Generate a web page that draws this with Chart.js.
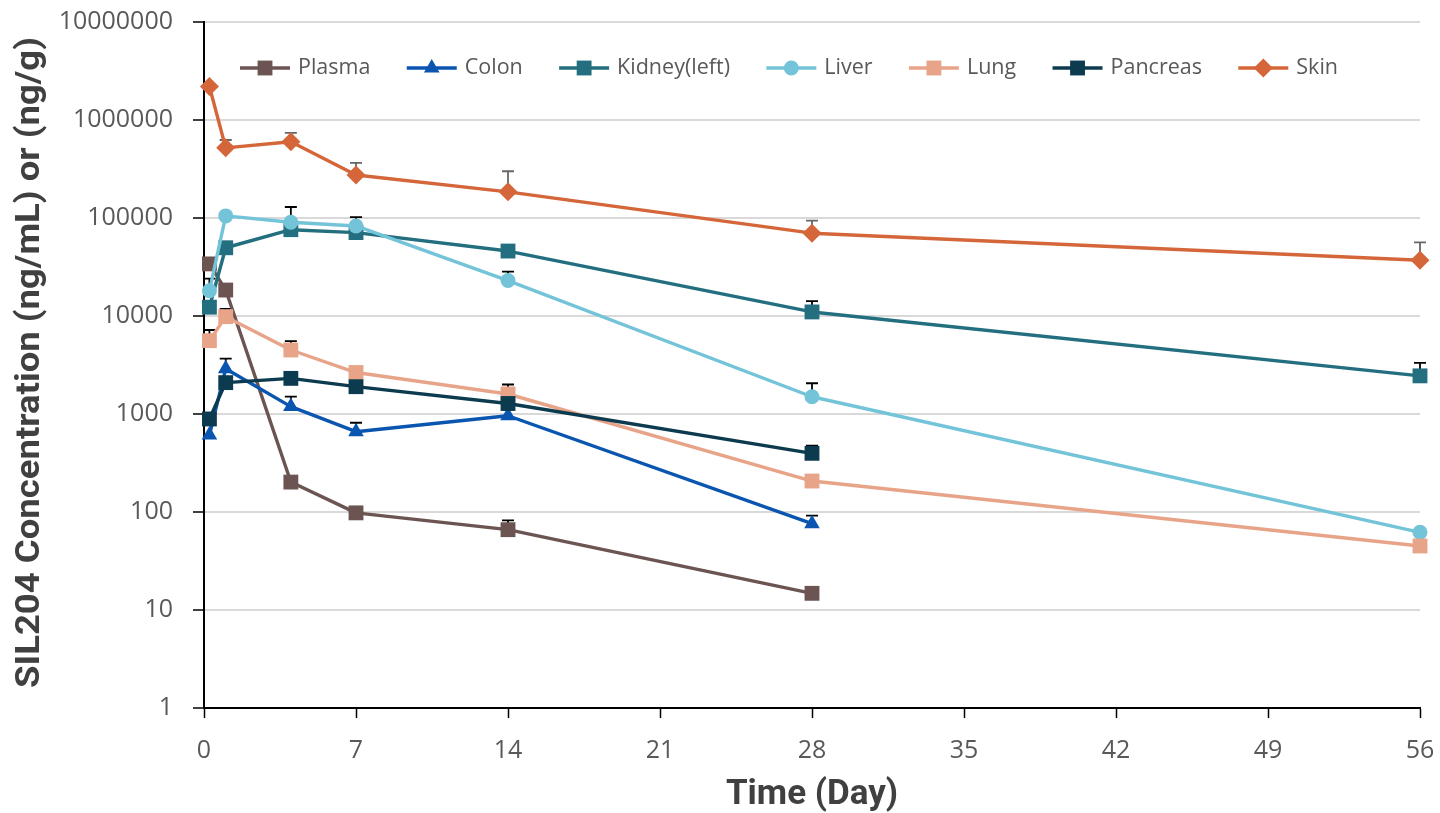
<!DOCTYPE html>
<html>
<head>
<meta charset="utf-8">
<script src="https://cdn.jsdelivr.net/npm/chart.js@4/dist/chart.umd.min.js"></script>
<style>
html,body{margin:0;padding:0;background:#fff;}
#wrap{width:1440px;height:813px;}
</style>
</head>
<body>
<div id="wrap"><canvas id="c" width="1440" height="813"></canvas></div>
<script>
// ---- data ----
const TIME = [0.25, 1, 4, 7, 14, 28, 56];
const X_TICKS = [0, 7, 14, 21, 28, 35, 42, 49, 56];
const Y_TICKS = [1, 10, 100, 1000, 10000, 100000, 1000000, 10000000];
const SERIES_NAMES = ['Plasma', 'Colon', 'Kidney(left)', 'Liver', 'Lung', 'Pancreas', 'Skin'];
const X_TITLE = 'Time (Day)';
const Y_TITLE = 'SIL204 Concentration (ng/mL) or (ng/g)';

const PLASMA      = [34000, 18400, 202, 98, 66, 14.8];
const PLASMA_SD   = [null, null, null, null, 16, null];
const COLON       = [610, 2900, 1190, 660, 960, 76];
const COLON_SD    = [null, 770, 316, 154, 150, 16];
const KIDNEY      = [12300, 49700, 76000, 71000, 46000, 11000, 2450];
const KIDNEY_SD   = [null, null, null, null, null, 3200, 880];
const LIVER       = [18100, 105000, 90500, 83000, 23000, 1500, 62];
const LIVER_SD    = [6000, null, 39000, 19000, 5300, 560, null];
const LUNG        = [5600, 9850, 4500, 2650, 1600, 207, 45];
const LUNG_SD     = [1600, 2000, 1050, null, 400, null, null];
const PANCREAS    = [890, 2090, 2310, 1900, 1280, 397];
const PANCREAS_SD = [null, null, null, null, 250, 78];
const SKIN        = [2200000, 520000, 600000, 275000, 185000, 70000, 37000];
const SKIN_SD     = [100000, 105000, 140000, 90000, 115000, 24000, 19500];

// ---- styles ----
const STYLES = [
  {color: '#6B5451', point: 'rect', r: 10.5, err: '#000000'},
  {color: '#0A55B0', point: 'triangle', r: 9, err: '#000000'},
  {color: '#236F80', point: 'rect', r: 10.5, err: '#000000'},
  {color: '#74C4D9', point: 'circle', r: 7.5, err: '#000000'},
  {color: '#E8A488', point: 'rect', r: 10.5, err: '#000000'},
  {color: '#0C3A4F', point: 'rect', r: 10.5, err: '#000000'},
  {color: '#D4663A', point: 'rectRot', r: 9.5, err: '#666666'}
];
const VALUES = [PLASMA, COLON, KIDNEY, LIVER, LUNG, PANCREAS, SKIN];
const SDS = [PLASMA_SD, COLON_SD, KIDNEY_SD, LIVER_SD, LUNG_SD, PANCREAS_SD, SKIN_SD];

const datasets = SERIES_NAMES.map((name, i) => ({
  label: name,
  data: VALUES[i].map((v, j) => ({x: TIME[j], y: v})),
  sd: SDS[i],
  borderColor: STYLES[i].color,
  backgroundColor: STYLES[i].color,
  pointStyle: STYLES[i].point,
  pointRadius: STYLES[i].r,
  pointHoverRadius: STYLES[i].r,
  pointBorderWidth: 0,
  borderWidth: 3.4,
  tension: 0,
  clip: false,
  order: SERIES_NAMES.length - i,
  errColor: STYLES[i].err
}));

const errorBars = {
  id: 'errorBars',
  beforeDatasetsDraw(chart) {
    const ctx = chart.ctx;
    const ys = chart.scales.y;
    chart.data.datasets.forEach((ds, i) => {
      const meta = chart.getDatasetMeta(i);
      ds.sd.forEach((sd, j) => {
        if (sd == null) return;
        const pt = meta.data[j];
        if (!pt) return;
        const x = pt.x, y0 = pt.y;
        const y1 = ys.getPixelForValue(ds.data[j].y + sd);
        ctx.save();
        ctx.strokeStyle = ds.errColor;
        ctx.lineWidth = 1.8;
        ctx.beginPath();
        ctx.moveTo(x, y0); ctx.lineTo(x, y1);
        ctx.moveTo(x - 6, y1); ctx.lineTo(x + 6, y1);
        ctx.stroke();
        ctx.restore();
      });
    });
  }
};

function drawMarker(ctx, style, x, y, r, color) {
  ctx.fillStyle = color;
  ctx.beginPath();
  if (style === 'rect') {
    const s = r * Math.SQRT1_2;
    ctx.rect(x - s, y - s, 2 * s, 2 * s);
  } else if (style === 'circle') {
    ctx.arc(x, y, r, 0, Math.PI * 2);
  } else if (style === 'triangle') {
    ctx.moveTo(x, y - r);
    ctx.lineTo(x + r * 0.866, y + r * 0.5);
    ctx.lineTo(x - r * 0.866, y + r * 0.5);
    ctx.closePath();
  } else if (style === 'rectRot') {
    ctx.moveTo(x, y - r); ctx.lineTo(x + r, y); ctx.lineTo(x, y + r); ctx.lineTo(x - r, y);
    ctx.closePath();
  }
  ctx.fill();
}

const legendPlugin = {
  id: 'insideLegend',
  afterDraw(chart) {
    const ctx = chart.ctx;
    const font = '21.5px "Open Sans", "Noto Sans", sans-serif';
    ctx.save();
    ctx.font = font;
    const lineLen = 50, gapText = 8;
    const startX = 240, endX = 1338, cy = 68;
    const widths = chart.data.datasets.map(ds => lineLen + gapText + ctx.measureText(ds.label).width);
    const total = widths.reduce((a, b) => a + b, 0);
    const gap = (endX - startX - total) / (widths.length - 1);
    let x = startX;
    chart.data.datasets.forEach((ds, i) => {
      ctx.strokeStyle = ds.borderColor;
      ctx.lineWidth = 3.4;
      ctx.beginPath();
      ctx.moveTo(x, cy); ctx.lineTo(x + lineLen, cy);
      ctx.stroke();
      drawMarker(ctx, ds.pointStyle, x + lineLen / 2, cy, ds.pointRadius, ds.borderColor);
      ctx.fillStyle = '#595959';
      ctx.textBaseline = 'middle';
      ctx.textAlign = 'left';
      ctx.fillText(ds.label, x + lineLen + gapText, cy);
      x += widths[i] + gap;
    });
    ctx.restore();
  }
};

const yTitlePlugin = {
  id: 'yTitle',
  afterDraw(chart) {
    const ctx = chart.ctx;
    ctx.save();
    ctx.font = 'bold 33px Roboto, "Liberation Sans", sans-serif';
    const w = ctx.measureText(Y_TITLE).width;
    const targetW = 651;
    ctx.translate(31, 688);
    ctx.rotate(-Math.PI / 2);
    ctx.scale(targetW / w, 1);
    ctx.fillStyle = '#404040';
    ctx.textAlign = 'left';
    ctx.textBaseline = 'middle';
    ctx.fillText(Y_TITLE, 0, 0);
    ctx.restore();
  }
};

const tickFont = {family: '"Open Sans", "Noto Sans", sans-serif', size: 25};
const titleFont = {family: 'Roboto, "Liberation Sans", sans-serif', size: 35, weight: 'bold', lineHeight: 1.0};

new Chart(document.getElementById('c'), {
  type: 'line',
  data: {datasets},
  plugins: [errorBars, legendPlugin, yTitlePlugin],
  options: {
    responsive: false,
    animation: false,
    events: [],
    layout: {padding: {top: 22, right: 20, left: 0, bottom: 0}},
    plugins: {legend: {display: false}, tooltip: {enabled: false}},
    elements: {line: {borderCapStyle: 'round', borderJoinStyle: 'round'}},
    scales: {
      x: {
        type: 'linear',
        min: 0, max: 56,
        afterBuildTicks(s) { s.ticks = X_TICKS.map(v => ({value: v})); },
        afterFit(s) { s.height = 105; s.paddingLeft = 0; s.paddingRight = 0; },
        border: {display: true, color: '#000', width: 2},
        grid: {drawOnChartArea: false, drawTicks: true, tickLength: 10, tickColor: '#000', tickWidth: 1.5},
        ticks: {font: tickFont, color: '#595959', padding: 18, maxRotation: 0, autoSkip: false},
        title: {display: true, text: X_TITLE, font: titleFont, color: '#404040', padding: {top: 0, bottom: 0}}
      },
      y: {
        type: 'logarithmic',
        min: 1, max: 10000000,
        afterBuildTicks(s) { s.ticks = Y_TICKS.map(v => ({value: v})); },
        afterFit(s) { s.width = 204; s.paddingTop = 0; s.paddingBottom = 0; },
        border: {display: true, color: '#000', width: 2},
        grid: {color: '#D9D9D9', lineWidth: 2, drawTicks: true, tickLength: 11, tickColor: '#000', tickWidth: 1.5},
        ticks: {font: tickFont, color: '#595959', padding: 20, autoSkip: false, callback: v => String(v)},
        title: {display: false}
      }
    }
  }
});
</script>
</body>
</html>
